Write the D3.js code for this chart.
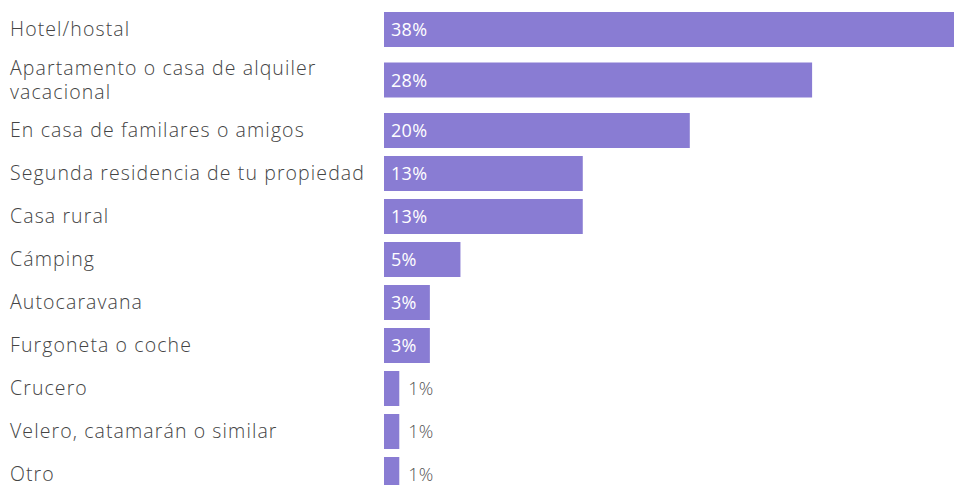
<!DOCTYPE html>
<html><head><meta charset="utf-8">
<script src="https://cdn.jsdelivr.net/npm/d3@7"></script>
<style>body{margin:0;background:#fff;} svg{display:block;}</style>
</head><body>
<svg id="chart" width="954" height="485"></svg>
<script>
const categories = [
  ["Hotel/hostal"],
  ["Apartamento o casa de alquiler", "vacacional"],
  ["En casa de familares o amigos"],
  ["Segunda residencia de tu propiedad"],
  ["Casa rural"],
  ["Cámping"],
  ["Autocaravana"],
  ["Furgoneta o coche"],
  ["Crucero"],
  ["Velero, catamarán o similar"],
  ["Otro"]
];
const values = [38, 28, 20, 13, 13, 5, 3, 3, 1, 1, 1];
const valueLabels = ["38%","28%","20%","13%","13%","5%","3%","3%","1%","1%","1%"];

(function(){
const svg = d3.select("#chart");
const barH = 35, rowH = 43, extraLine = 15;
const FONT = "'Open Sans', Lato, sans-serif";

let yTop = 8;
const rows = categories.map((lines, i) => {
  const h = rowH + (lines.length - 1) * extraLine;
  const r = {lines, value: values[i], label: valueLabels[i], top: yTop, h};
  yTop += h;
  return r;
});

const x = d3.scaleLinear().domain([0, 38]).range([384, 965]);

const g = svg.selectAll("g.row").data(rows).join("g").attr("class","row");

g.append("rect")
  .attr("x", x(0))
  .attr("y", d => d.top + (d.h - barH) / 2)
  .attr("width", d => x(d.value) - x(0))
  .attr("height", barH)
  .attr("fill", "#897cd3");

g.append("text")
  .attr("font-family", FONT)
  .attr("font-size", 19.5)
  .attr("font-weight", 300)
  .attr("letter-spacing", 1.1)
  .attr("fill", "#444444")
  .each(function(d){
    const t = d3.select(this);
    const n = d.lines.length, lh = 24;
    const cy = d.top + d.h / 2;
    d.lines.forEach((ln, k) => {
      t.append("tspan").attr("x", 10)
       .attr("y", cy + (k - (n - 1) / 2) * lh + 6.5)
       .text(ln);
    });
  });

g.append("text")
  .attr("font-family", FONT)
  .attr("font-size", 18)
  .attr("font-weight", d => (x(d.value) - x(0)) > 40 ? 400 : 300)
  .attr("letter-spacing", 0.3)
  .attr("x", d => (x(d.value) - x(0)) > 40 ? x(0) + 7 : x(d.value) + 9)
  .attr("y", d => d.top + d.h / 2 + 6.5)
  .attr("fill", d => (x(d.value) - x(0)) > 40 ? "#ffffff" : "#555555")
  .text(d => d.label);
})();
</script>
</body></html>
